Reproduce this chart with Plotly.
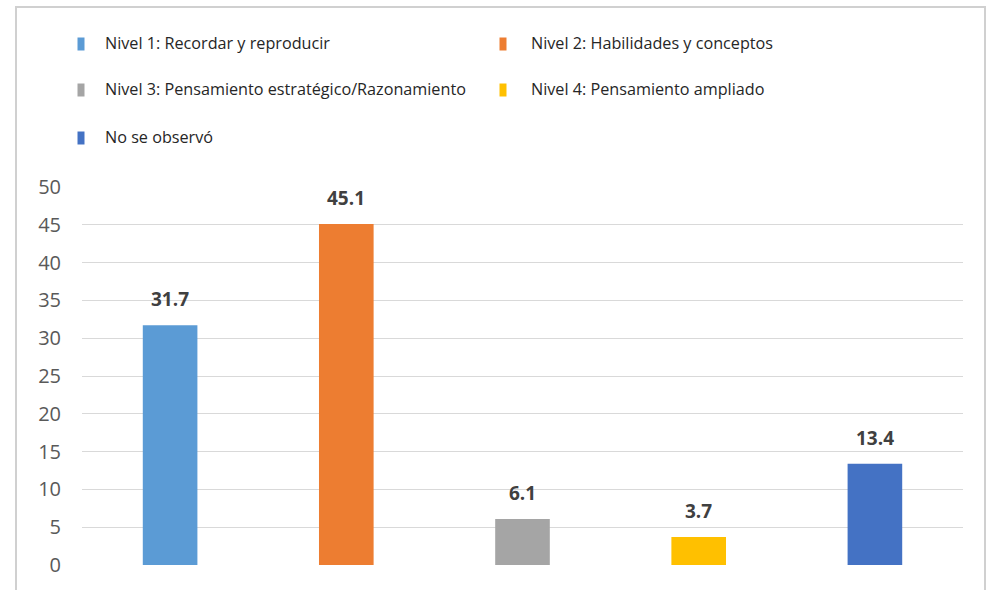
import plotly.graph_objects as go

categories = [
    "Nivel 1: Recordar y reproducir",
    "Nivel 2: Habilidades y conceptos",
    "Nivel 3: Pensamiento estratégico/Razonamiento",
    "Nivel 4: Pensamiento ampliado",
    "No se observó",
]
values = [31.7, 45.1, 6.1, 3.7, 13.4]
colors = ["#5B9BD5", "#ED7D31", "#A5A5A5", "#FFC000", "#4472C4"]
y_ticks = [0, 5, 10, 15, 20, 25, 30, 35, 40, 45, 50]

W, H = 997, 590
ML, MR, MT, MB = 82, 34, 187, 25
PW, PH = W - ML - MR, H - MT - MB


def px_x(px):
    return (px - ML) / PW


def px_y(py):
    return (H - MB - py) / PH


FONT = "'Open Sans', sans-serif"

fig = go.Figure()
fig.add_trace(go.Bar(
    x=list(range(len(categories))),
    y=values,
    marker=dict(color=colors, line=dict(width=0)),
    width=0.31,
    showlegend=False,
    hoverinfo="skip",
))

annotations = []
# value labels above each bar
for i, v in enumerate(values):
    annotations.append(dict(
        x=i, y=v, xref="x", yref="y", text=f"<b>{v}</b>",
        showarrow=False, yanchor="bottom", yshift=11,
        font=dict(family=FONT, size=19, color="#404040"),
    ))

shapes = []
# legend in two columns
leg_cols = [(81, 103), (503, 529)]
leg_rows = [44, 90, 138]
for i, (name, col) in enumerate(zip(categories, colors)):
    mx, tx = leg_cols[i % 2]
    ry = leg_rows[i // 2]
    shapes.append(dict(
        type="rect", xref="paper", yref="paper",
        x0=px_x(mx - 3.5), x1=px_x(mx + 3.5),
        y0=px_y(ry + 6.5), y1=px_y(ry - 6.5),
        fillcolor=col, line=dict(width=0), layer="above",
    ))
    annotations.append(dict(
        x=px_x(tx), y=px_y(ry - 1), xref="paper", yref="paper", text=name,
        showarrow=False, xanchor="left", yanchor="middle",
        font=dict(family=FONT, size=16.2, color="#262626"),
    ))

# outer frame
shapes.append(dict(
    type="rect", xref="paper", yref="paper",
    x0=px_x(16), x1=px_x(985), y0=px_y(620), y1=px_y(7),
    line=dict(color="#D0D0D0", width=2), fillcolor="rgba(0,0,0,0)", layer="below",
))

fig.update_layout(
    width=W, height=H,
    margin=dict(l=ML, r=MR, t=MT, b=MB),
    paper_bgcolor="white", plot_bgcolor="white",
    xaxis=dict(range=[-0.5, 4.5], showticklabels=False, showgrid=False,
               zeroline=False, showline=False, ticks=""),
    yaxis=dict(range=[0, 50], tickvals=y_ticks, showgrid=True,
               gridcolor="#D9D9D9", gridwidth=1, zeroline=False,
               showline=False, ticks="", ticklabelstandoff=20,
               tickfont=dict(family=FONT, size=20, color="#595959")),
    annotations=annotations,
    shapes=shapes,
)

fig.write_html("out.html")
